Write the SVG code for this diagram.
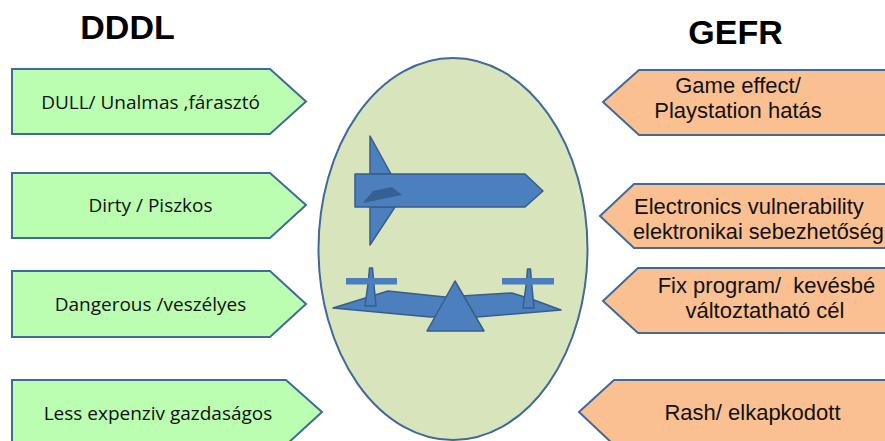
<svg xmlns="http://www.w3.org/2000/svg" width="885" height="441" viewBox="0 0 885 441">
<style>
.l{fill:#bbfdb1;stroke:#41699a;stroke-width:2}
.r{fill:#fbc092;stroke:#41699a;stroke-width:2}
.b{fill:#4c7fbd;stroke:#385d8a;stroke-width:1.500;stroke-linejoin:round}
.tl{font-family:"Open Sans",sans-serif;font-size:19px;fill:#111;text-anchor:middle}
.tr{font-family:"Liberation Sans",Arial,sans-serif;font-size:22px;fill:#111;text-anchor:middle}
.h{font-family:"Liberation Sans",Arial,sans-serif;font-size:34px;font-weight:bold;fill:#000;text-anchor:middle}
</style>
<rect width="885" height="441" fill="#fff"/>
<g id="connectors"></g>
<g id="title-dddl"><text class="h" x="127.500" y="39">DDDL</text></g>
<g id="title-gefr"><text class="h" x="735.500" y="44">GEFR</text></g>
<g id="center">
<ellipse cx="453" cy="249" rx="134.500" ry="191" fill="#d8e4bc" stroke="#41699a" stroke-width="2"/>
<path class="b" d="M370 136L391 174H370ZM370 207H395L370 245Z"/>
<path class="b" d="M355 174H525L543 191L525 207H355Z"/>
<path d="M363 203L373 191L392 187L402 195Z" fill="#376092"/>
<path class="b" d="M333 308L388 291L445 297L512 293L534 300L561 310L477 317H430Z"/>
<path class="b" d="M369.500 268H372.500L373.500 280L376 306H365L368.500 280Z"/>
<path class="b" d="M527.500 269H530.500L531.500 282L534 308H523L526.500 282Z"/>
<path d="M346 278H397V284.500H346ZM502 278H554V284.500H502Z" fill="#4c7fbd"/>
<path class="b" d="M455 281L484 331H427Z"/>
</g>
<g id="dull"><path class="l" d="M12 69H270L306 101.500L270 134H12Z"/><text class="tl" x="150.500" y="108.800">DULL/ Unalmas ,fárasztó</text></g>
<g id="dirty"><path class="l" d="M12 173H270L306 205L270 238H12Z"/><text class="tl" x="150.500" y="211.800">Dirty / Piszkos</text></g>
<g id="dangerous"><path class="l" d="M12 271H270L306 304L270 337H12Z"/><text class="tl" x="150.500" y="310.800">Dangerous /veszélyes</text></g>
<g id="less"><path class="l" d="M12 380H286L322 412L286 445H12Z"/><text class="tl" x="158" y="419.800">Less expenziv gazdaságos</text></g>
<g id="game"><path class="r" d="M890 70H639L603 102L639 135H890Z"/><text class="tr" x="738" y="92.500">Game effect/</text><text class="tr" x="738" y="118">Playstation hatás</text></g>
<g id="electronics"><path class="r" d="M890 184H634L600 216L634 248H890Z"/><text class="tr" x="634" y="213.500" style="text-anchor:start">Electronics vulnerability</text><text class="tr" x="633" y="238.500" style="text-anchor:start;font-size:21.700px">elektronikai sebezhetőség</text></g>
<g id="fix"><path class="r" d="M890 268H638L603 301L638 333H890Z"/><text class="tr" x="766.500" y="292.500" style="white-space:pre">Fix program/  kevésbé</text><text class="tr" x="765" y="317.500">változtatható cél</text></g>
<g id="rash"><path class="r" d="M890 380H614L579 412L614 445H890Z"/><text class="tr" x="752.500" y="419.500">Rash/ elkapkodott</text></g>
</svg>
